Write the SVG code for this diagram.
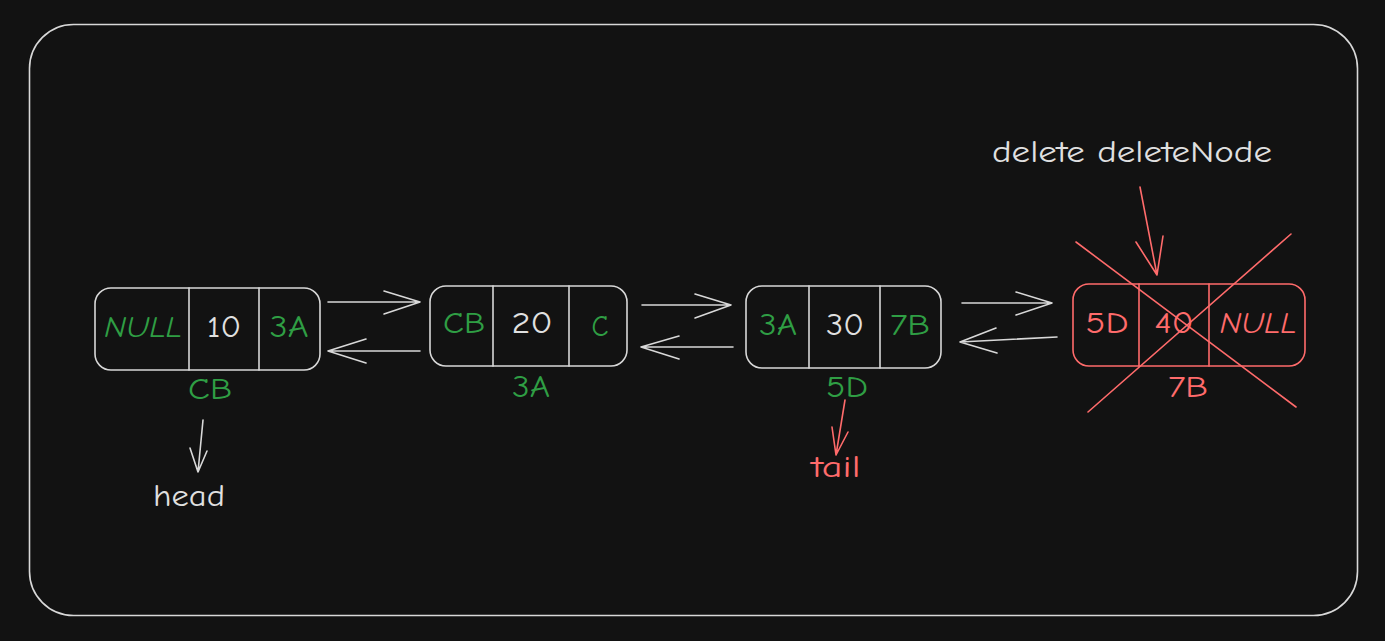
<svg xmlns="http://www.w3.org/2000/svg" width="1385" height="641" viewBox="0 0 1385 641">
<style>
.bg{fill:#121212}
.frame{fill:none;stroke:#d8d8d8;stroke-width:1.6}
.box{fill:none;stroke:#d8d8d8;stroke-width:1.6}
.rbox{fill:none;stroke:#ff6b6b;stroke-width:1.6}
.ln{stroke:#d8d8d8;stroke-width:1.6;fill:none;stroke-linecap:round;stroke-linejoin:round}
.rln{stroke:#ff6b6b;stroke-width:1.6;fill:none;stroke-linecap:round;stroke-linejoin:round}
text{font-family:"Comic Neue","Liberation Sans","DejaVu Sans",sans-serif;font-size:31px;text-anchor:middle;dominant-baseline:central;lengthAdjust:spacingAndGlyphs}
.g{fill:#2f9e44}
.w{fill:#e0e0e0}
.r{fill:#ff6b6b}
.it{font-style:italic}
</style>
<rect class="bg" x="0" y="0" width="1385" height="641"/>
<rect class="frame" x="29.5" y="24.5" width="1328" height="591" rx="44"/>

<g id="node-CB">
<rect class="box" x="95" y="288" width="225" height="82" rx="16"/>
<line class="ln" x1="189" y1="288" x2="189" y2="370"/>
<line class="ln" x1="259" y1="288" x2="259" y2="370"/>
<text class="g it" x="143" y="327" textLength="78" lengthAdjust="spacingAndGlyphs">NULL</text>
<text class="w" x="224" y="327" textLength="34" lengthAdjust="spacingAndGlyphs">10</text>
<text class="g" x="289" y="327" textLength="39" lengthAdjust="spacingAndGlyphs">3A</text>
<text class="g" x="210" y="389" textLength="44" lengthAdjust="spacingAndGlyphs">CB</text>
</g>

<g id="node-3A">
<rect class="box" x="430" y="286" width="197" height="80" rx="16"/>
<line class="ln" x1="493" y1="286" x2="493" y2="366"/>
<line class="ln" x1="569" y1="286" x2="569" y2="366"/>
<text class="g" x="464" y="323" textLength="42" lengthAdjust="spacingAndGlyphs">CB</text>
<text class="w" x="532" y="323" textLength="41" lengthAdjust="spacingAndGlyphs">20</text>
<text class="g" x="600" y="326" textLength="17" lengthAdjust="spacingAndGlyphs">C</text>
<text class="g" x="531" y="387" textLength="38" lengthAdjust="spacingAndGlyphs">3A</text>
</g>

<g id="node-5D">
<rect class="box" x="746" y="286" width="195" height="82" rx="16"/>
<line class="ln" x1="809" y1="286" x2="809" y2="368"/>
<line class="ln" x1="880" y1="286" x2="880" y2="368"/>
<text class="g" x="778" y="325" textLength="38" lengthAdjust="spacingAndGlyphs">3A</text>
<text class="w" x="845" y="325" textLength="38" lengthAdjust="spacingAndGlyphs">30</text>
<text class="g" x="910" y="325" textLength="40" lengthAdjust="spacingAndGlyphs">7B</text>
<text class="g" x="847" y="387" textLength="42" lengthAdjust="spacingAndGlyphs">5D</text>
</g>

<g id="node-7B">
<rect class="rbox" x="1073" y="284" width="232" height="82" rx="16"/>
<line class="rln" x1="1139" y1="284" x2="1139" y2="366"/>
<line class="rln" x1="1209" y1="284" x2="1209" y2="366"/>
<text class="r" x="1107" y="323" textLength="43" lengthAdjust="spacingAndGlyphs">5D</text>
<text class="r" x="1174" y="323" textLength="39" lengthAdjust="spacingAndGlyphs">40</text>
<text class="r it" x="1258" y="323" textLength="77" lengthAdjust="spacingAndGlyphs">NULL</text>
<text class="r" x="1188" y="387" textLength="40" lengthAdjust="spacingAndGlyphs">7B</text>
<line class="rln" x1="1076" y1="242" x2="1296" y2="407"/>
<line class="rln" x1="1088" y1="412" x2="1291" y2="234"/>
</g>

<g id="label-head">
<text class="w" x="189" y="496" textLength="72" lengthAdjust="spacingAndGlyphs">head</text>
</g>
<g id="label-tail">
<text class="r" x="836" y="467" textLength="49" lengthAdjust="spacingAndGlyphs">tail</text>
</g>
<g id="label-delete">
<text class="w" x="1132" y="152" textLength="280" lengthAdjust="spacingAndGlyphs">delete deleteNode</text>
</g>

<g id="connectors">
<path class="ln" d="M328 302 L420 302 M384 291 L420 302 L384 314"/>
<path class="ln" d="M420 351 L328 351 M366 339 L328 351 L366 363"/>
<path class="ln" d="M642 305 L731 305 M695 294 L731 305 L695 318"/>
<path class="ln" d="M733 347 L641 347 M679 336 L641 347 L679 359"/>
<path class="ln" d="M962 303 L1052 303 M1016 292 L1052 303 L1016 315"/>
<path class="ln" d="M1057 337 L960 342 M996 328 L960 342 L997 353"/>
<path class="ln" d="M203 420 L198 472 M190 448 L198 472 L207 451"/>
<path class="rln" d="M845 400 L836 455 M832 427 L836 455 M848 432 L836 455"/>
<path class="rln" d="M1140 187 L1157 275 M1136 242 L1157 275 L1163 236"/>
</g>
</svg>
